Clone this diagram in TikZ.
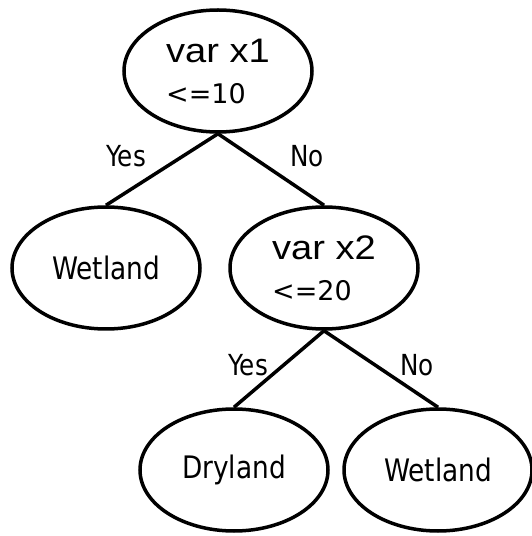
\documentclass[tikz,border=0pt]{standalone}
\usepackage{fontspec}
\usetikzlibrary{shapes.geometric}
\newfontfamily\varfont[FakeStretch=1.12]{Liberation Sans}
\newfontfamily\condfont[FakeStretch=0.85]{DejaVu Sans}
\newfontfamily\opfont{DejaVu Sans}
\tikzset{
  split/.style={ellipse, draw, line width=3.5pt, minimum width=188pt, minimum height=122pt,
    inner sep=0pt, align=left, font=\fontsize{34}{41}\selectfont},
  leaf/.style={ellipse, draw, line width=3.5pt, minimum width=188pt, minimum height=122pt,
    inner sep=0pt, font=\condfont\fontsize{31}{36}\selectfont},
  answer/.style={font=\condfont\fontsize{29}{34}\selectfont},
  branch/.style={line width=3.5pt}
}
\begin{document}
\begin{tikzpicture}[x=1pt, y=1pt]
    \useasboundingbox (0,0) rectangle (532,536);
    \node[split] (x1) at (218,465) {\varfont var x1\\\opfont\fontsize{27}{41}\selectfont <=10};
    \node[leaf] (wet1) at (106,268) {Wetland};
    \node[split] (x2) at (324,268) {\varfont var x2\\\opfont\fontsize{27}{41}\selectfont <=20};
    \node[leaf] (dry) at (234,66) {Dryland};
    \node[leaf] (wet2) at (438,66) {Wetland};
    \draw[branch] (x1.south) -- (wet1.north);
    \draw[branch] (x1.south) -- (x2.north);
    \draw[branch] (x2.south) -- (dry.north);
    \draw[branch] (x2.south) -- (wet2.north);
    \node[answer] (yes1) at (126,380) {Yes};
    \node[answer] (no1) at (307,380) {No};
    \node[answer] (yes2) at (248,171) {Yes};
    \node[answer] (no2) at (417,171) {No};
\end{tikzpicture}
\end{document}
